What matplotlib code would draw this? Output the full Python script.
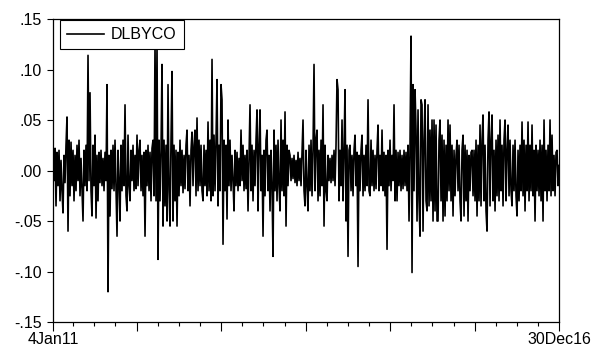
import numpy as np
import pandas as pd
import matplotlib
matplotlib.use("Agg")
import matplotlib.pyplot as plt

# DLBYCO (one value per pixel column, by year)
y2011 = [0.020, -0.010, 0.022, -0.035, 0.018, -0.015, 0.020, -0.030, 0.010, -0.020,
         -0.042, 0.015, -0.012, 0.025, 0.053, -0.060, 0.030, -0.025, 0.028, -0.015,
         0.020, -0.030, 0.015, -0.020, 0.025, -0.010, 0.030, -0.025, 0.012, -0.018,
         -0.050, 0.020, -0.015, 0.025, -0.020, 0.114, -0.010, 0.077, -0.020, -0.045,
         0.025, -0.015, 0.035, -0.047, 0.015, -0.030, 0.018, -0.012, 0.020, -0.015,
         0.012, -0.020, 0.018, -0.010, 0.085, -0.120, 0.015, -0.045, 0.020, -0.018,
         0.025, -0.020, 0.030, -0.015, -0.065, 0.020, -0.010, -0.050, 0.025, -0.020,
         0.030, -0.015, 0.065, -0.025, -0.040, 0.035, -0.015, -0.030, 0.020, -0.010,
         0.025, -0.020, 0.015, -0.018]
y2012 = [0.035, -0.015, 0.020, 0.030, -0.020, 0.015, -0.025, 0.018, -0.065, 0.020,
         -0.015, 0.025, -0.020, 0.018, -0.030, 0.022, 0.030, -0.025, 0.125, -0.030,
         0.125, -0.088, 0.030, -0.030, 0.020, 0.105, -0.055, 0.030, -0.035, 0.025,
         -0.050, 0.085, -0.020, -0.055, 0.030, 0.098, -0.050, 0.025, -0.030, 0.020,
         -0.055, 0.018, -0.025, 0.030, -0.015, 0.020, -0.022, 0.015, -0.018, 0.025,
         0.040, -0.020, 0.015, -0.035, 0.020, 0.038, -0.015, 0.025, 0.040, -0.025,
         0.052, -0.020, 0.030, -0.015, 0.025, -0.020, -0.030, 0.025, -0.015, 0.020,
         -0.025, 0.048, -0.020, 0.030, -0.030, 0.110, -0.025, 0.035, -0.020, 0.030,
         0.090, -0.035, 0.025, -0.020]
y2013 = [0.085, 0.070, -0.073, 0.030, -0.020, 0.025, -0.048, 0.050, -0.015, 0.030,
         -0.020, 0.015, -0.010, -0.040, 0.020, -0.015, 0.018, -0.020, 0.012, -0.015,
         0.040, -0.010, 0.025, -0.020, 0.015, -0.018, 0.020, -0.040, 0.015, 0.065,
         -0.020, 0.025, -0.030, 0.020, -0.015, 0.030, 0.060, -0.040, 0.025, 0.060,
         -0.020, 0.015, -0.065, 0.020, -0.025, 0.030, 0.040, -0.020, 0.015, -0.040,
         0.020, -0.015, -0.085, 0.040, -0.020, 0.025, -0.030, 0.030, -0.015, -0.040,
         0.050, -0.020, 0.030, -0.025, 0.058, -0.055, 0.025, -0.015, 0.020, 0.015,
         -0.010, 0.012, -0.008, 0.015, -0.012, 0.010, -0.015, 0.018, -0.010, 0.012,
         -0.015, 0.018, 0.050, -0.020]
y2014 = [-0.035, 0.020, -0.015, -0.040, 0.025, -0.020, 0.030, -0.025, 0.020, 0.105,
         -0.020, 0.030, 0.040, -0.030, 0.020, -0.025, 0.030, -0.015, 0.065, -0.055,
         0.025, -0.020, -0.030, 0.015, -0.010, 0.012, -0.012, 0.015, -0.010, 0.020,
         -0.015, 0.025, 0.090, 0.080, -0.030, 0.020, -0.015, 0.050, -0.030, 0.020,
         0.080, -0.050, 0.025, -0.085, 0.020, 0.025, -0.020, 0.015, -0.025, 0.020,
         0.035, -0.015, 0.018, -0.095, 0.015, -0.020, 0.020, 0.035, -0.025, 0.015,
         -0.020, 0.025, -0.015, 0.070, -0.020, -0.025, 0.030, -0.015, 0.020, -0.020,
         0.015, -0.018, 0.020, 0.045, -0.020, 0.015, -0.015, 0.040, -0.020, 0.018,
         -0.025, 0.015, -0.078, 0.020, -0.015]
y2015 = [0.030, -0.020, 0.015, -0.010, 0.065, -0.030, 0.020, -0.030, 0.018, -0.015,
         0.020, -0.020, 0.015, -0.018, 0.020, -0.015, 0.018, -0.020, 0.025, -0.050,
         0.025, 0.133, -0.101, 0.085, -0.020, 0.080, 0.040, -0.050, 0.060, -0.030,
         -0.065, 0.070, 0.065, -0.060, 0.030, 0.070, -0.030, -0.040, 0.065, -0.035,
         0.040, -0.030, 0.050, -0.050, 0.050, -0.040, 0.045, -0.050, -0.050, 0.030,
         0.050, -0.030, 0.035, -0.050, 0.030, -0.045, 0.025, -0.030, 0.050, -0.020,
         0.045, -0.030, 0.025, -0.045, 0.020, -0.025, 0.015, 0.030, -0.020, 0.025,
         -0.030, -0.050, 0.020, 0.035, -0.045, 0.025, -0.030, 0.020, -0.050, 0.015,
         -0.020, 0.018, 0.020, -0.025]
y2016 = [0.020, -0.030, 0.030, -0.045, 0.025, -0.030, 0.045, -0.035, 0.030, 0.055,
         -0.030, 0.025, -0.040, -0.060, 0.030, 0.058, -0.035, 0.030, 0.055, -0.030,
         0.020, -0.040, 0.030, -0.025, 0.035, -0.030, 0.050, -0.020, 0.025, -0.035,
         0.030, 0.050, -0.030, 0.020, 0.045, -0.025, 0.030, -0.020, -0.035, 0.025,
         -0.020, 0.030, -0.025, -0.045, 0.020, -0.030, 0.025, -0.020, 0.048, -0.025,
         0.030, -0.040, 0.025, -0.020, 0.048, -0.030, 0.025, -0.020, 0.045, -0.025,
         0.020, -0.050, 0.025, -0.020, 0.020, -0.025, 0.030, -0.030, 0.025, -0.050,
         0.050, -0.020, 0.020, -0.030, 0.025, -0.020, 0.050, -0.025, 0.035, -0.020,
         0.015, -0.025, 0.018, 0.020, -0.015, 0.005]

values = np.array(y2011 + y2012 + y2013 + y2014 + y2015 + y2016)
start, end = pd.Timestamp("2011-01-04"), pd.Timestamp("2016-12-30")
dates = pd.date_range(start, end, periods=len(values))

yticks = [-0.15, -0.10, -0.05, 0.00, 0.05, 0.10, 0.15]
ylabels = ["-.15", "-.10", "-.05", ".00", ".05", ".10", ".15"]

plt.rcParams["font.family"] = ["Liberation Sans", "DejaVu Sans"]
plt.rcParams["font.size"] = 11.5

fig = plt.figure(figsize=(5.97, 3.54), dpi=100)
ax = fig.add_axes([0.0888, 0.0904, 0.8476, 0.8559])

ax.plot(dates, values, color="black", lw=1.2, label="DLBYCO")

ax.set_xlim(start, end)
ax.set_ylim(-0.15, 0.15)
ax.set_yticks(yticks)
ax.set_yticklabels(ylabels)

# year ticks (long) and quarter ticks (short); only the end dates are labelled
majors = [start] + list(pd.date_range("2012-01-01", "2016-01-01", freq="YS")) + [end]
ax.set_xticks(majors)
ax.set_xticklabels(["4Jan11", "", "", "", "", "", "30Dec16"])
ax.set_xticks(pd.date_range("2011-04-01", "2016-10-01", freq="QS"), minor=True)

ax.tick_params(axis="x", which="major", direction="out", length=6.5, width=0.8, pad=1)
ax.tick_params(axis="x", which="minor", direction="out", length=3, width=0.8)
ax.tick_params(axis="y", direction="out", length=4.3, width=0.8, pad=4)
for s in ax.spines.values():
    s.set_linewidth(0.9)

leg = ax.legend(loc="upper left", bbox_to_anchor=(0.014, 0.997), borderaxespad=0,
                fancybox=False, edgecolor="black", framealpha=1, handlelength=2.3,
                handletextpad=0.45, borderpad=0.45, fontsize=11.5)
leg.get_frame().set_linewidth(0.8)

fig.savefig("out.png", dpi=100)
